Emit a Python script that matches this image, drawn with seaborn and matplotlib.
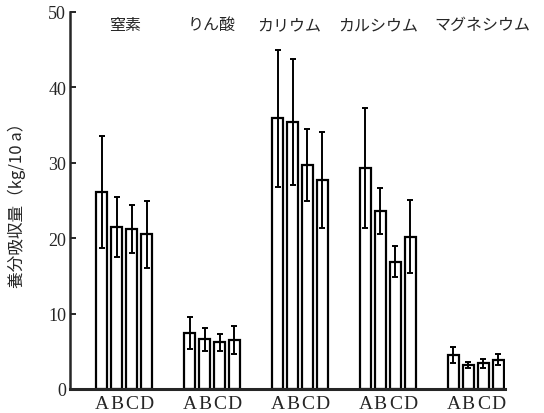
import numpy as np
import pandas as pd
import matplotlib
matplotlib.use("Agg")
import matplotlib.pyplot as plt
import seaborn as sns

nutrients = ["窒素", "りん酸", "カリウム", "カルシウム", "マグネシウム"]
treatments = ["A", "B", "C", "D"]
means = {
    "A": [26.1, 7.4, 35.9, 29.3, 4.5],
    "B": [21.5, 6.6, 35.4, 23.6, 3.2],
    "C": [21.2, 6.2, 29.7, 16.9, 3.4],
    "D": [20.5, 6.5, 27.7, 20.2, 3.9],
}
errs = {
    "A": [7.4, 2.1, 9.1, 7.9, 1.1],
    "B": [4.0, 1.5, 8.3, 3.1, 0.4],
    "C": [3.2, 1.1, 4.8, 2.0, 0.6],
    "D": [4.4, 1.8, 6.4, 4.8, 0.7],
}
yticks = [0, 10, 20, 30, 40, 50]
ylabel = "養分吸収量（kg/10 a）"

# layout only: horizontal nudges of the group titles (axis units)
title_shift = [0.01, 0.0, -0.125, -0.11, 0.08]

rows = []
for t in treatments:
    for i, n in enumerate(nutrients):
        rows.append({"nutrient": n, "treatment": t, "value": means[t][i], "err": errs[t][i]})
df = pd.DataFrame(rows)

sns.set_style("ticks")
plt.rcParams["font.family"] = ["Noto Sans CJK JP", "DejaVu Sans"]

fig = plt.figure(figsize=(5.44, 4.14), dpi=100)
ax = fig.add_axes([0.129, 0.058, 0.799, 0.911])

sns.barplot(data=df, x="nutrient", y="value", hue="treatment", hue_order=treatments,
            order=nutrients, width=0.68, gap=0.27, errorbar=None,
            palette=["white"] * 4, edgecolor="black", linewidth=1.6, legend=False, ax=ax)

# error bars at bar centres
for container, t in zip(ax.containers, treatments):
    sub = df[df.treatment == t].set_index("nutrient").loc[nutrients]
    xs = [p.get_x() + p.get_width() / 2 for p in container.patches]
    ax.errorbar(xs, sub["value"].values, yerr=sub["err"].values, fmt="none",
                ecolor="black", elinewidth=1.4, capsize=2.2, capthick=1.4, zorder=5)
    for x in xs:
        ax.text(x, -0.8, t, ha="center", va="top", fontsize=14,
                family="Liberation Serif", clip_on=False)

for i, n in enumerate(nutrients):
    ax.text(i + title_shift[i], 48.3, n, ha="center", va="center", fontsize=11.5,
            family=["Noto Sans CJK JP", "DejaVu Sans"])

ax.set_ylim(0, 50)
ax.set_xlim(-0.614, 4.33)
ax.set_yticks(yticks)
ax.set_yticklabels([str(v) for v in yticks], family="Liberation Serif", fontsize=13)
ax.set_xticks([])
ax.set_xlabel("")
ax.set_ylabel(ylabel, fontsize=12, labelpad=16)
ax.tick_params(axis="y", direction="in", length=4, width=1.4, pad=3)
sns.despine(ax=ax, top=True, right=True)
ax.spines["left"].set_linewidth(1.8)
ax.spines["bottom"].set_linewidth(2.2)

fig.savefig("out.png", dpi=100)
